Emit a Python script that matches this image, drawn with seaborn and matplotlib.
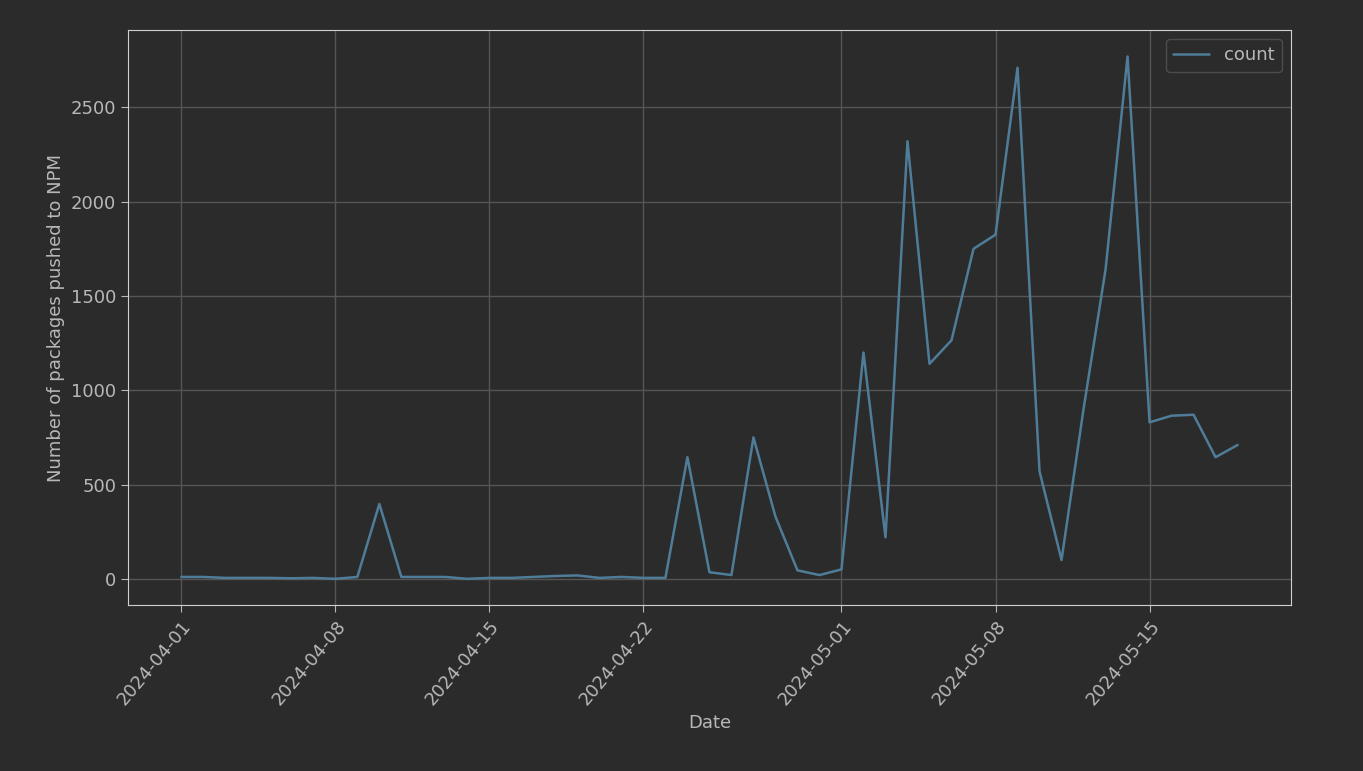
import matplotlib
matplotlib.use("Agg")
import matplotlib.pyplot as plt
import matplotlib.dates as mdates
import numpy as np
import pandas as pd
import seaborn as sns

dates = pd.date_range("2024-04-01", "2024-05-19", freq="D")
counts = [10, 10, 5, 5, 5, 3, 5, 0, 10, 397, 10, 10, 10, 0, 5, 5, 10, 15, 18, 5,
          10, 5, 5, 645, 35, 20, 750, 330, 45, 20, 50, 1200, 220, 2320, 1140, 1265,
          1750, 1825, 2710, 570, 100, 900, 1640, 2770, 830, 865, 870, 645, 710]
tick_dates = pd.to_datetime(["2024-04-01", "2024-04-08", "2024-04-15", "2024-04-22",
                             "2024-05-01", "2024-05-08", "2024-05-15"])

df = pd.DataFrame({"Date": dates, "count": counts})

bg = "#2b2b2b"
fg = "#b8b8b8"
sns.set_style("darkgrid", {"axes.facecolor": bg, "figure.facecolor": bg,
                           "grid.color": "#555555", "axes.edgecolor": "#d0d0d0"})

fig, ax = plt.subplots(figsize=(13.63, 7.71), dpi=100)
fig.patch.set_facecolor(bg)
sns.lineplot(data=df, x="Date", y="count", ax=ax, color="#4f7d99", linewidth=1.8, label="count")

ax.set_xticks(tick_dates)
ax.xaxis.set_major_formatter(mdates.DateFormatter("%Y-%m-%d"))
plt.setp(ax.get_xticklabels(), rotation=50, ha="right", rotation_mode="anchor")
ax.set_xlabel("Date", color=fg, fontsize=13)
ax.set_ylabel("Number of packages pushed to NPM", color=fg, fontsize=13)
ax.tick_params(colors=fg, labelsize=13, length=5, color=fg)
ax.tick_params(axis="both", which="both", bottom=True, left=True)
for s in ax.spines.values():
    s.set_visible(True)
    s.set_color("#d0d0d0")
ax.grid(True, color="#555555", linewidth=1)
ax.set_yticks([0, 500, 1000, 1500, 2000, 2500])
ax.set_xlim(pd.Timestamp("2024-03-29 14:00"), pd.Timestamp("2024-05-21 10:00"))
ax.set_ylim(-140, 2910)
leg = ax.legend(loc="upper right", fontsize=13, facecolor=bg, edgecolor="#555555")
for t in leg.get_texts():
    t.set_color(fg)

plt.subplots_adjust(left=0.094, right=0.947, top=0.961, bottom=0.215)
plt.savefig("out.png", dpi=100, facecolor=bg)
